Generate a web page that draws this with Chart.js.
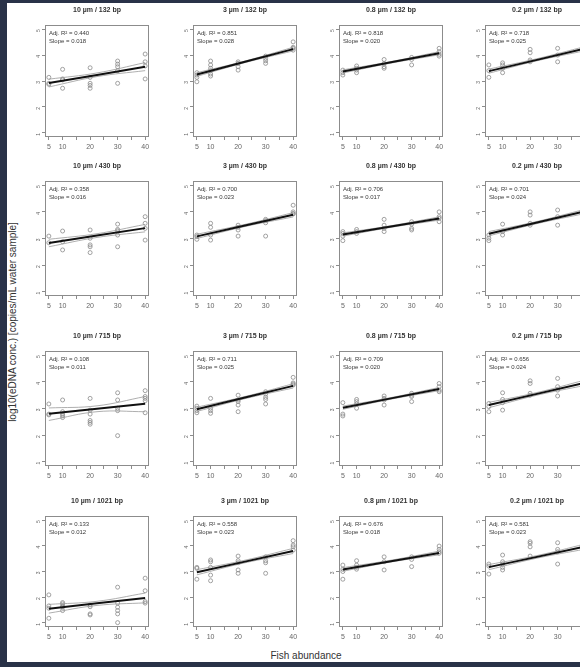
<!DOCTYPE html>
<html>
<head>
<meta charset="utf-8">
<script src="https://cdn.jsdelivr.net/npm/chart.js@4"></script>
<style>
  html, body { margin: 0; padding: 0; width: 580px; height: 667px; overflow: hidden; background: #293248; }
  body { position: relative; font-family: "Liberation Sans", Arial, sans-serif; }
  #sheet { position: absolute; left: 7px; top: 3px; width: 620px; height: 659px; background: #ffffff; }
  .panel { position: absolute; }
  #yTitle {
    position: absolute; left: -137px; top: 316px; width: 300px; height: 12px;
    font-size: 10px; line-height: 12px; text-align: center; color: #333;
    transform: rotate(-90deg);
  }
  #xTitle {
    position: absolute; left: 206px; top: 650px; width: 200px; height: 12px;
    font-size: 10px; line-height: 12px; text-align: center; color: #333;
  }
</style>
</head>
<body>
<div id="sheet"></div>
<div id="yTitle">log10(eDNA conc.) [copies/mL water sample]</div>
<div id="xTitle">Fish abundance</div>

<script>
// ===== Data =====
const abundance = [5, 10, 20, 30, 40];
const filterSizes = ['10 µm', '3 µm', '0.8 µm', '0.2 µm'];
const ampliconLengths = ['132 bp', '430 bp', '715 bp', '1021 bp'];

const adjR2 = [
  [0.440, 0.851, 0.818, 0.718],
  [0.358, 0.700, 0.706, 0.701],
  [0.108, 0.711, 0.709, 0.656],
  [0.133, 0.558, 0.676, 0.581],
];
const slopes = [
  [0.018, 0.028, 0.020, 0.025],
  [0.016, 0.023, 0.017, 0.024],
  [0.011, 0.025, 0.020, 0.024],
  [0.012, 0.023, 0.018, 0.023],
];

// fitted line at 5 and 40 fish
const fitEnds = [
  [[2.92, 3.55], [3.25, 4.23], [3.37, 4.07], [3.38, 4.25]],
  [[2.83, 3.39], [3.08, 3.89], [3.15, 3.75], [3.18, 4.02]],
  [[2.80, 3.18], [2.97, 3.85], [3.03, 3.73], [3.13, 3.97]],
  [[1.55, 1.97], [2.97, 3.80], [3.08, 3.72], [3.17, 3.97]],
];
// confidence band at 5, 22.5 and 40 fish
const ciX = [5, 22.5, 40];
const ciLow = [
  [[2.77, 3.17, 3.40], [3.18, 3.71, 4.16], [3.31, 3.69, 4.01], [3.30, 3.78, 4.17]],
  [[2.69, 3.04, 3.25], [3.00, 3.45, 3.81], [3.09, 3.42, 3.69], [3.10, 3.56, 3.94]],
  [[2.55, 2.88, 2.88], [2.89, 3.37, 3.77], [2.97, 3.35, 3.67], [3.03, 3.50, 3.87]],
  [[1.38, 1.68, 1.78], [2.87, 3.34, 3.70], [3.01, 3.37, 3.65], [3.07, 3.52, 3.87]],
];
const ciHigh = [
  [[3.07, 3.31, 3.71], [3.32, 3.77, 4.30], [3.43, 3.75, 4.13], [3.46, 3.86, 4.33]],
  [[2.97, 3.18, 3.53], [3.16, 3.53, 3.97], [3.21, 3.48, 3.81], [3.26, 3.64, 4.10]],
  [[3.02, 3.10, 3.45], [3.05, 3.45, 3.93], [3.09, 3.41, 3.79], [3.23, 3.60, 4.07]],
  [[1.72, 1.84, 2.16], [3.07, 3.44, 3.90], [3.15, 3.44, 3.79], [3.27, 3.62, 4.07]],
];

// replicate samples, one list per abundance level (5, 10, 20, 30, 40)
const samples = [
  [
    [[3.14, 2.91, 2.87], [3.45, 3.08, 3.04, 2.72], [3.51, 3.14, 2.91, 2.83, 2.72], [3.77, 3.65, 3.55, 3.40, 2.91], [4.04, 3.74, 3.58, 3.08]],
    [[3.32, 3.23, 3.14, 2.97], [3.77, 3.62, 3.49, 3.40, 3.27, 3.19], [3.74, 3.68, 3.55, 3.42], [3.96, 3.87, 3.78, 3.68], [4.51, 4.30, 4.26, 4.19]],
    [[3.42, 3.32, 3.23], [3.58, 3.49, 3.42, 3.32], [3.83, 3.68, 3.55, 3.49], [3.91, 3.83, 3.62], [4.26, 4.13, 4.03, 3.96]],
    [[3.62, 3.40, 3.14], [3.70, 3.62, 3.49, 3.32], [4.22, 4.09, 3.81, 3.74], [4.26, 4.00, 3.74], [4.55, 4.35, 4.15]],
  ],
  [
    [[3.09, 2.84], [3.28, 2.88, 2.57], [3.32, 3.01, 2.76, 2.69, 2.47], [3.54, 3.34, 3.29, 3.13, 2.69], [3.82, 3.57, 3.38, 2.94]],
    [[3.13, 3.07, 2.97], [3.57, 3.42, 3.13, 2.94], [3.50, 3.42, 3.32, 3.09], [3.72, 3.67, 3.59, 3.09], [4.25, 4.00, 3.94, 3.92]],
    [[3.26, 3.19, 3.09, 2.92], [3.34, 3.26, 3.19], [3.72, 3.50, 3.38, 3.26], [3.63, 3.54, 3.38, 3.32], [4.00, 3.82, 3.76, 3.63]],
    [[3.13, 3.01, 2.92], [3.54, 3.26, 3.13], [4.00, 3.88, 3.57, 3.50], [4.07, 3.82, 3.50], [4.30, 4.10, 3.90]],
  ],
  [
    [[3.17, 2.79, 2.76], [3.32, 2.88, 2.79, 2.73, 2.66], [3.38, 2.94, 2.79, 2.55, 2.48, 2.41], [3.59, 3.32, 3.01, 2.92, 1.98], [3.67, 3.45, 3.38, 3.29, 2.84]],
    [[3.09, 3.01, 2.92, 2.84], [3.38, 3.01, 2.92, 2.82], [3.50, 3.32, 3.26, 3.13, 2.88], [3.63, 3.54, 3.42, 3.34, 3.17], [4.17, 3.96, 3.92, 3.88]],
    [[3.22, 2.79, 2.72], [3.34, 3.26, 3.17, 3.01], [3.47, 3.38, 3.32, 3.13], [3.57, 3.50, 3.45, 3.26], [3.94, 3.82, 3.69, 3.63]],
    [[3.19, 3.07, 2.88], [3.59, 3.34, 3.22, 2.94], [4.04, 3.94, 3.57, 3.50], [4.13, 3.82, 3.69, 3.47], [4.30, 4.10, 3.95]],
  ],
  [
    [[2.09, 1.66, 1.57, 1.18], [1.79, 1.74, 1.66, 1.61, 1.48], [1.70, 1.63, 1.35, 1.31], [2.39, 1.77, 1.61, 1.48, 1.35, 1.01], [2.74, 2.25, 1.83, 1.77]],
    [[3.16, 3.12, 2.70], [3.45, 3.38, 3.16, 2.86, 2.64], [3.60, 3.42, 3.34, 3.06, 2.93], [3.57, 3.42, 3.34, 2.93], [4.20, 4.03, 3.96, 3.83]],
    [[3.25, 3.09, 3.00, 2.70], [3.42, 3.25, 3.16, 3.09], [3.57, 3.38, 3.06], [3.57, 3.47, 3.19], [3.99, 3.86, 3.77, 3.71]],
    [[3.29, 3.21, 2.90], [3.64, 3.38, 3.29, 3.16, 3.06], [4.16, 4.10, 3.96, 3.60], [4.12, 3.86, 3.77, 3.29], [4.30, 4.10, 3.90]],
  ],
];

const xTicks = [5, 10, 15, 20, 25, 30, 35, 40];
const xTickLabels = [5, 10, 20, 30, 40];
const yTicks = [1, 2, 3, 4, 5];

// ===== Layout of the grid (plot box edges, px) =====
const colBoxLeft = [45, 193, 339, 485];
const boxWidth = 104;
const rowBoxTop = [25, 181, 351, 516];
const rowBoxBottom = [137, 296, 466, 627];
const AXIS_W = 26, TITLE_H = 21, XAXIS_H = 20, PAD_R = 6;

const FONT = '"Liberation Sans", Arial, sans-serif';

// ===== Plugin: box around the plot + R² / slope text =====
const boxText = {
  id: 'boxText',
  afterDatasetsDraw(chart, args, opts) {
    const { ctx, chartArea: { left, top, right, bottom } } = chart;
    ctx.save();
    ctx.strokeStyle = '#8c8c8c';
    ctx.lineWidth = 1;
    ctx.strokeRect(Math.round(left) + 0.5, Math.round(top) + 0.5, Math.round(right - left) - 1, Math.round(bottom - top) - 1);
    ctx.font = '6px ' + FONT;
    ctx.fillStyle = '#3a3a3a';
    ctx.textBaseline = 'middle';
    ctx.fillText(opts.lines[0], left + 4, top + 8.5);
    ctx.fillText(opts.lines[1], left + 4, top + 16);
    ctx.restore();
  },
};

function criarPainel(r, c) {
  const boxH = rowBoxBottom[r] - rowBoxTop[r];
  const canvas = document.createElement('canvas');
  canvas.className = 'panel';
  canvas.width = AXIS_W + boxWidth + PAD_R;
  canvas.height = TITLE_H + boxH + XAXIS_H;
  canvas.style.left = (colBoxLeft[c] - AXIS_W) + 'px';
  canvas.style.top = (rowBoxTop[r] - TITLE_H) + 'px';
  document.body.appendChild(canvas);

  const pontos = [];
  samples[r][c].forEach((grupo, i) => {
    grupo.forEach((y) => pontos.push({ x: abundance[i], y }));
  });
  const fit = [{ x: 5, y: fitEnds[r][c][0] }, { x: 40, y: fitEnds[r][c][1] }];
  const lo = ciX.map((x, i) => ({ x, y: ciLow[r][c][i] }));
  const hi = ciX.map((x, i) => ({ x, y: ciHigh[r][c][i] }));

  const linha = (data, cor, largura, ordem) => ({
    data, showLine: true, borderColor: cor, borderWidth: largura,
    pointRadius: 0, tension: 0.4, order: ordem,
  });

  new Chart(canvas, {
    type: 'scatter',
    data: {
      datasets: [
        linha(fit, '#111111', 2, 0),
        linha(lo, '#9a9a9a', 0.8, 1),
        linha(hi, '#9a9a9a', 0.8, 1),
        {
          data: pontos, order: 2, pointRadius: 2, pointStyle: 'circle',
          borderColor: '#8a8a8a', backgroundColor: 'rgba(0,0,0,0)', borderWidth: 0.8,
        },
      ],
    },
    options: {
      responsive: false,
      animation: false,
      events: [],
      layout: { padding: { left: 0, right: PAD_R, top: 0, bottom: 0 } },
      scales: {
        x: {
          type: 'linear', min: 3.6, max: 41.4,
          afterBuildTicks: (s) => { s.ticks = xTicks.map((v) => ({ value: v })); },
          afterFit: (s) => { s.height = XAXIS_H; },
          ticks: {
            autoSkip: false, maxRotation: 0, padding: 3, color: '#666',
            font: { size: 7, family: FONT },
            callback: (v) => (xTickLabels.includes(v) ? String(v) : ''),
          },
          grid: { drawOnChartArea: false, drawTicks: true, tickLength: 3, color: '#8c8c8c' },
          border: { display: false },
        },
        y: {
          type: 'linear', min: 0.84, max: 5.16,
          afterBuildTicks: (s) => { s.ticks = yTicks.map((v) => ({ value: v })); },
          afterFit: (s) => { s.width = AXIS_W; },
          ticks: {
            minRotation: 90, maxRotation: 90, padding: 3, color: '#666',
            font: { size: 5, family: FONT },
          },
          grid: { drawOnChartArea: false, drawTicks: true, tickLength: 3, color: '#8c8c8c' },
          border: { display: false },
        },
      },
      plugins: {
        legend: { display: false },
        tooltip: { enabled: false },
        title: {
          display: true, fullSize: false,
          text: `${filterSizes[c]} / ${ampliconLengths[r]}`,
          color: '#333', font: { size: 7, weight: 'bold', family: FONT },
          padding: { top: 2, bottom: 10.6 },
        },
        boxText: {
          lines: [`Adj. R² = ${adjR2[r][c].toFixed(3)}`, `Slope = ${slopes[r][c].toFixed(3)}`],
        },
      },
    },
    plugins: [boxText],
  });
}

for (let r = 0; r < 4; r++) {
  for (let c = 0; c < 4; c++) criarPainel(r, c);
}
</script>
</body>
</html>
